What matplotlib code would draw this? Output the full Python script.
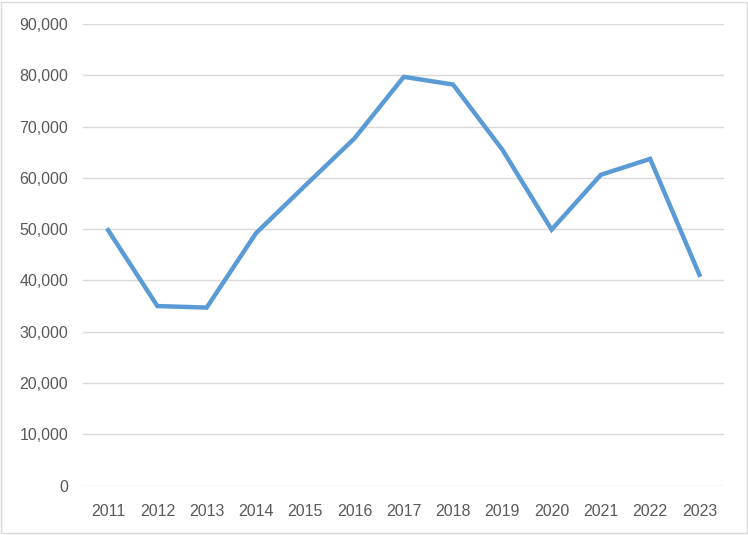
import matplotlib
matplotlib.use('Agg')
import matplotlib.pyplot as plt
from matplotlib.ticker import FuncFormatter
from matplotlib.patches import Rectangle

years = ['2011', '2012', '2013', '2014', '2015', '2016', '2017',
         '2018', '2019', '2020', '2021', '2022', '2023']
values = [49800, 35000, 34700, 49200, 58500, 67700, 79700,
          78200, 65500, 49900, 60600, 63700, 41100]

plt.rcParams['font.family'] = ['Liberation Sans', 'DejaVu Sans']

fig = plt.figure(figsize=(7.48, 5.35), dpi=100)
ax = fig.add_axes([0.1116, 0.0925, 0.8564, 0.8626])

x = range(len(years))
ax.plot(x, values, color='#5B9BD5', linewidth=3.2, solid_joinstyle='miter')

ax.set_xlim(-0.5, len(years) - 0.5)
ax.set_ylim(0, 90000)
ax.set_yticks(range(0, 90001, 10000))
ax.yaxis.set_major_formatter(FuncFormatter(lambda v, p: '{:,.0f}'.format(v)))
ax.set_xticks(list(x))
ax.set_xticklabels(years)

ax.grid(axis='y', color='#D9D9D9', linewidth=1)
ax.set_axisbelow(True)
for s in ax.spines.values():
    s.set_visible(False)
ax.tick_params(length=0, colors='#595959', labelsize=11.5)
ax.tick_params(axis='y', pad=11)
ax.tick_params(axis='x', pad=13)

# outer chart border
fig.patches.append(Rectangle((0.002, 0.003), 0.996, 0.994, transform=fig.transFigure,
                             fill=False, edgecolor='#D9D9D9', linewidth=1))

fig.savefig('out.png', dpi=100)
